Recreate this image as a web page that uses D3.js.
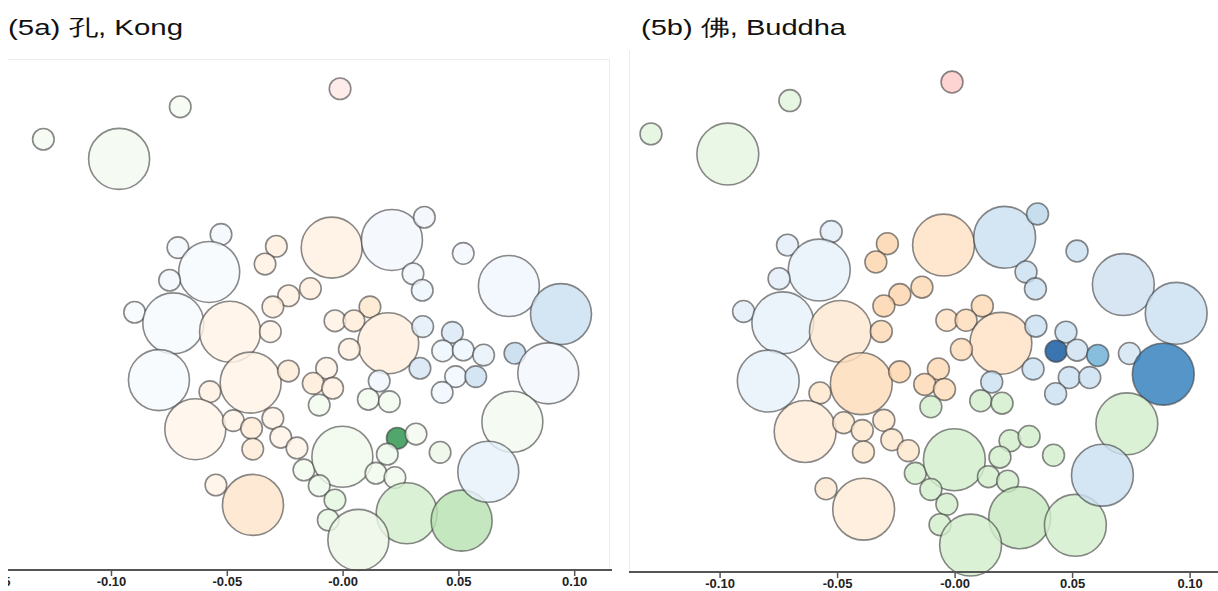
<!DOCTYPE html>
<html>
<head>
<meta charset="utf-8">
<script src="https://cdnjs.cloudflare.com/ajax/libs/d3/7.8.5/d3.min.js"></script>
<style>
body { margin: 0; background: #fff; }
svg { display: block; font-family: "Liberation Sans", Arial, sans-serif; }
</style>
</head>
<body>
<script>
// circle positions (x on the axis scale, y in the same units), sizes and colour groups
var xs = [-0.1292, -0.0965, -0.0701, -0.0011, -0.0711, -0.0525, -0.0576, -0.0747, -0.0286, -0.0335,
    -0.0233, -0.0301, -0.0898, -0.0731, -0.0486, -0.0312, -0.0793, -0.0397, -0.0234, -0.0573,
    -0.0636, -0.0472, -0.0393, -0.0388, -0.0301, -0.0267, -0.0197, -0.0167, -0.0547, -0.0387,
    -0.0047, 0.0213, 0.0353, 0.0521, 0.0304, 0.0344, 0.0718, 0.0943, -0.0139, 0.0118,
    -0.0033, 0.0049, 0.0197, 0.0346, 0.0029, 0.0334, 0.0474, 0.0432, 0.0521, 0.0609,
    0.0744, 0.0888, 0.0158, 0.0111, 0.0202, -0.0069, -0.0127, -0.0043, -0.0101, 0.0488,
    0.0575, 0.0430, 0.0733, 0.0236, 0.0317, 0.0193, 0.0421, -0.0001, 0.0144, 0.0226,
    -0.0101, -0.0033, -0.0062, 0.0277, 0.0514, 0.0068, 0.0629]
var ys = [0.1860, 0.1775, 0.2000, 0.2078, 0.1392, 0.1449, 0.1287, 0.1251, 0.1398, 0.1321,
    0.1184, 0.1136, 0.1113, 0.1065, 0.1029, 0.1029, 0.0820, 0.0809, 0.0859, 0.0770,
    0.0608, 0.0645, 0.0612, 0.0522, 0.0655, 0.0573, 0.0527, 0.0432, 0.0367, 0.0281,
    0.1392, 0.1425, 0.1523, 0.1367, 0.1279, 0.1208, 0.1226, 0.1105, 0.1215, 0.1136,
    0.1076, 0.1076, 0.0979, 0.1051, 0.0953, 0.0871, 0.1026, 0.0946, 0.0950, 0.0928,
    0.0936, 0.0849, 0.0816, 0.0737, 0.0727, 0.0871, 0.0806, 0.0785, 0.0712, 0.0835,
    0.0835, 0.0767, 0.0640, 0.0569, 0.0587, 0.0500, 0.0508, 0.0489, 0.0418, 0.0399,
    0.0364, 0.0302, 0.0216, 0.0245, 0.0213, 0.0130, 0.0424]
var sizes = [1, 8, 1, 1, 1, 1, 8, 1, 1, 1,
    1, 1, 1, 8, 8, 1, 8, 8, 1, 1,
    8, 1, 1, 1, 1, 1, 1, 1, 1, 8,
    8, 8, 1, 1, 1, 1, 8, 8, 1, 1,
    1, 1, 8, 1, 1, 1, 1, 1, 1, 1,
    1, 8, 1, 1, 1, 1, 1, 1, 1, 1,
    1, 1, 8, 1, 1, 1, 1, 8, 1, 1,
    1, 1, 1, 8, 8, 8, 8]
var groups = ["G", "G", "G", "R", "B", "B", "B", "B", "O", "O",
    "O", "O", "B", "B", "O", "O", "B", "O", "O", "O",
    "O", "O", "O", "O", "O", "O", "O", "G", "O", "O",
    "O", "B", "B", "B", "B", "B", "B", "B", "O", "O",
    "O", "O", "O", "B", "O", "B", "B", "B", "B", "B",
    "B", "B", "B", "G", "G", "O", "O", "O", "G", "B",
    "B", "B", "G", "G", "G", "G", "G", "G", "G", "G",
    "G", "G", "G", "G", "G", "G", "B"]
var kong = [0.02, 0.03, 0.02, 0.08, 0.02, 0.02, 0.01, 0.02, 0.05, 0.04,
    0.04, 0.06, 0.01, 0.01, 0.02, 0.02, 0.01, 0.02, 0.09, 0.04,
    0.01, 0.02, 0.08, 0.09, 0.02, 0.02, 0.02, 0.04, 0.02, 0.13,
    0.04, 0.02, 0.03, 0.02, 0.03, 0.05, 0.04, 0.22, 0.06, 0.12,
    0.03, 0.08, 0.05, 0.10, 0.04, 0.17, 0.15, 0.05, 0.05, 0.08,
    0.25, 0.02, 0.04, 0.04, 0.04, 0.03, 0.08, 0.04, 0.04, 0.04,
    0.22, 0.04, 0.03, 0.72, 0.03, 0.06, 0.08, 0.05, 0.05, 0.05,
    0.06, 0.12, 0.10, 0.20, 0.30, 0.08, 0.08]
var buddha = [0.13, 0.11, 0.13, 0.22, 0.10, 0.10, 0.08, 0.10, 0.22, 0.22,
    0.22, 0.22, 0.10, 0.08, 0.10, 0.20, 0.08, 0.18, 0.22, 0.12,
    0.08, 0.12, 0.12, 0.12, 0.12, 0.12, 0.12, 0.20, 0.10, 0.08,
    0.15, 0.22, 0.28, 0.22, 0.22, 0.22, 0.20, 0.22, 0.20, 0.20,
    0.15, 0.18, 0.15, 0.22, 0.18, 0.22, 0.22, 0.85, 0.20, 0.50,
    0.18, 0.70, 0.22, 0.20, 0.20, 0.20, 0.20, 0.18, 0.20, 0.22,
    0.22, 0.22, 0.20, 0.20, 0.20, 0.20, 0.20, 0.20, 0.20, 0.20,
    0.20, 0.20, 0.20, 0.25, 0.20, 0.20, 0.22]
var tickValues = [-0.15, -0.10, -0.05, 0, 0.05, 0.10]

var color = {
    B: d3.interpolateBlues,
    O: d3.interpolateOranges,
    G: d3.interpolateGreens,
    R: d3.interpolateRdPu
}

var circles = xs.map(function (x, i) {
    return { x: x, y: ys[i], size: sizes[i], group: groups[i], kong: kong[i], buddha: buddha[i] }
})

var fmt = d3.formatLocale({ decimal: ".", thousands: ",", grouping: [3], currency: ["", ""], minus: "-" }).format(".2f")

var panels = [
    { key: "kong", title: "(5a) 孔, Kong", titleX: 8, titleW: 175, left: 8, right: 612,
      x0: 111, x1: 574.2, yBase: 570, yK: 2316, axisY: 570 },
    { key: "buddha", title: "(5b) 佛, Buddha", titleX: 641, titleW: 205, left: 629, right: 1218,
      x0: 719.6, x1: 1189.6, yBase: 576, yK: 2377, axisY: 572 }
]

var svg = d3.select("body").append("svg")
    .attr("width", 1218)
    .attr("height", 591)

// faint frame lines left over from the screenshots
svg.append("path")
    .attr("d", "M8,59.5H609.5V570")
    .attr("fill", "none")
    .attr("stroke", "#ececec")
svg.append("line")
    .attr("x1", 629.5).attr("x2", 629.5)
    .attr("y1", 50).attr("y2", 572)
    .attr("stroke", "#ececec")

panels.forEach(function (p, pi) {
    var x = d3.scaleLinear().domain([-0.1, 0.1]).range([p.x0, p.x1])
    var y = d3.scaleLinear().domain([0, 0.2]).range([p.yBase, p.yBase - 0.2 * p.yK])
    var k = (p.x1 - p.x0) / 463.2
    var r = d3.scaleSqrt().domain([0, 8]).range([0, 30.5 * k])

    svg.append("clipPath")
        .attr("id", "clip" + pi)
        .append("rect")
        .attr("x", p.left).attr("y", 0)
        .attr("width", p.right - p.left).attr("height", 591)

    svg.append("text")
        .attr("x", p.titleX)
        .attr("y", 35)
        .attr("textLength", p.titleW)
        .attr("lengthAdjust", "spacingAndGlyphs")
        .style("font-size", "22px")
        .attr("fill", "#111")
        .text(p.title)

    var g = svg.append("g").attr("clip-path", "url(#clip" + pi + ")")

    g.append("g")
        .selectAll("circle")
        .data(circles)
        .enter()
        .append("circle")
        .attr("cx", function (d) { return x(d.x) })
        .attr("cy", function (d) { return y(d.y) })
        .attr("r", function (d) { return r(d.size) })
        .attr("fill", function (d) { return color[d.group](d[p.key]) })
        .attr("fill-opacity", 0.82)
        .attr("stroke", "#3a3a3a")
        .attr("stroke-opacity", 0.6)
        .attr("stroke-width", 1.6)

    // only keep ticks whose label can show inside the panel
    var ticks = tickValues.filter(function (v) { return x(v) > p.left - 16 })

    var axis = g.append("g")
        .attr("transform", "translate(0," + p.axisY + ")")
        .call(d3.axisBottom(x)
            .tickValues(ticks)
            .tickSize(6)
            .tickPadding(1)
            .tickSizeOuter(0)
            .tickFormat(function (d) { return d === 0 ? "-0.00" : fmt(d) }))

    axis.select(".domain").remove()
    axis.append("line")
        .attr("x1", p.left).attr("x2", p.right)
        .attr("stroke", "#555")
        .attr("stroke-width", 2)
    axis.selectAll(".tick line")
        .attr("stroke", "#555")
        .attr("stroke-width", 1.5)
    axis.selectAll(".tick text")
        .attr("fill", "#222")
        .style("font-size", "13px")
        .style("font-weight", "bold")
        .style("font-family", "'Liberation Sans', Arial, sans-serif")
})
</script>
</body>
</html>
